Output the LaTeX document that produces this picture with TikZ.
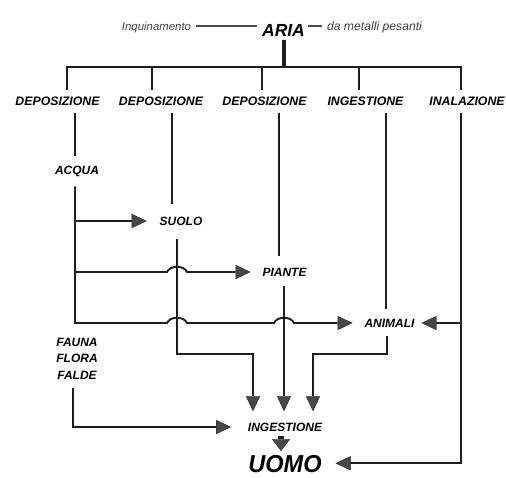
\documentclass[tikz,border=0pt]{standalone}
\usepackage{fontspec}
\setmainfont{Liberation Sans}
\usetikzlibrary{arrows.meta,calc}
\begin{document}
\begin{tikzpicture}[x=1pt,y=-1pt,
  line width=1.9pt, draw=black!88,
  every node/.style={inner sep=0pt, text depth=0pt},
  lab/.style={font=\fontsize{12}{14}\selectfont\bfseries\itshape, text height=8.6pt},
  toplab/.style={font=\fontsize{12.3}{14}\selectfont\bfseries\itshape, text height=8.8pt},
  note/.style={font=\fontsize{11.4}{13}\selectfont\itshape, text=black!75, text height=8.2pt},
  arr/.style={-{Triangle[length=15pt,width=14pt,line width=0.4pt,fill=black!72]}},
  thin/.style={line width=1.1pt, draw=black!70}]
\useasboundingbox (0,0) rectangle (506,477);

% texts
\node[note] (inq) at (156.5,26) {Inquinamento};
\node[font=\fontsize{17.5}{20}\selectfont\bfseries\itshape, text height=12.6pt] (aria) at (283.5,30) {ARIA};
\node[note, font=\fontsize{12.2}{13}\selectfont\itshape] (met) at (374.5,26) {da metalli pesanti};

\node[toplab] (d1) at (57.5,101) {DEPOSIZIONE};
\node[toplab] (d2) at (161,101) {DEPOSIZIONE};
\node[toplab] (d3) at (264.5,101) {DEPOSIZIONE};
\node[toplab] (d4) at (365.5,101) {INGESTIONE};
\node[toplab] (d5) at (467,101) {INALAZIONE};

\node[lab] (acqua) at (77,170) {ACQUA};
\node[lab] (suolo) at (181,221) {SUOLO};
\node[lab] (piante) at (284.5,272) {PIANTE};
\node[lab] (animali) at (389.5,323) {ANIMALI};
\node[lab] (fauna) at (77,342) {FAUNA};
\node[lab] (flora) at (77,358) {FLORA};
\node[lab] (falde) at (77,375) {FALDE};
\node[lab] (ingest) at (285,427) {INGESTIONE};
\node[font=\fontsize{24.5}{28}\selectfont\bfseries\itshape, text height=17.5pt, anchor=base] (uomo) at (285,472) {\scalebox{0.96}[1]{UOMO}};

% coordinates
\coordinate (hub) at (283.5,67);
\coordinate (bl) at (66,67);
\coordinate (br) at (462,67);
\coordinate (t1) at (67,67);
\coordinate (t2) at (152,67);
\coordinate (t3) at (262,67);
\coordinate (t4) at (359,67);
\coordinate (t5) at (461,67);
\coordinate (k1) at (75,113);
\coordinate (j1) at (75,323);
\coordinate (k2) at (172,113);
\coordinate (m2) at (177,354);
\coordinate (a1) at (253,354);
\coordinate (k3) at (279,113);
\coordinate (a2) at (284,354);
\coordinate (k4) at (386,113);
\coordinate (m4) at (387,354);
\coordinate (a3) at (313,354);
\coordinate (k5) at (461,113);
\coordinate (m6) at (73,427);
\coordinate (dn) at (281,440);
\coordinate (h1) at (177,272);
\coordinate (h2) at (177,323);
\coordinate (h3) at (284,323);

% top
\draw[thin, shorten <=4pt, shorten >=4pt] (inq.east) -- (aria.west |- inq.east);
\draw[thin, shorten <=2pt, shorten >=4pt] (aria.east |- met.west) -- (met.west);
\draw[line width=4pt, shorten <=3pt] (aria.south) -- (hub);
\draw[line width=2.3pt] (bl) -- (br);
\foreach \i in {1,...,5} {
  \draw[line width=2.3pt, shorten >=6pt] (t\i) -- (t\i |- d\i.north);
}

% column 1
\draw[shorten >=8.5pt] (k1) -- (k1 |- acqua.north);
\draw[arr, shorten <=11pt, shorten >=11pt] (acqua.south -| j1) -- (j1)
  -- ([xshift=-10pt]h2) .. controls +(3,-7) and +(-3,-7) .. ([xshift=10pt]h2)
  -- ([xshift=-10pt]h3) .. controls +(3,-7) and +(-3,-7) .. ([xshift=10pt]h3)
  -- (animali.west);
\draw[arr, shorten >=12pt] (suolo.west -| j1) -- (suolo.west);
\draw[arr, shorten >=11pt] (piante.west -| j1)
  -- ([xshift=-10pt]h1) .. controls +(3,-7) and +(-3,-7) .. ([xshift=10pt]h1)
  -- (piante.west);

% column 2
\draw[shorten >=11.5pt] (k2) -- (k2 |- suolo.north);
\draw[arr, shorten <=13pt, shorten >=10.5pt] (m2 |- suolo.south) -- (m2) -- (a1) -- (a1 |- ingest.north);

% column 3
\draw[shorten >=10.7pt] (k3) -- (k3 |- piante.north);
\draw[arr, shorten <=8.7pt, shorten >=10.5pt] (a2 |- piante.south) -- (a2 |- ingest.north);

% column 4
\draw[shorten >=8.7pt] (k4) -- (k4 |- animali.north);
\draw[arr, shorten <=7.7pt, shorten >=10.5pt] (m4 |- animali.south) -- (m4) -- (a3) -- (a3 |- ingest.north);

% column 5
\draw[arr, shorten >=13pt] (k5) -- (k5 |- uomo.east) -- (uomo.east);
\draw[arr, shorten >=6pt] (animali.east -| k5) -- (animali.east);

% fauna flora falde
\draw[arr, shorten <=8pt, shorten >=16pt] (falde.south -| m6) -- (m6) -- (ingest.west);

% ingestione -> uomo
\draw[line width=6pt, -{Triangle[length=12pt,width=18pt,line width=0.4pt,fill=black!72]},
  shorten <=3.5pt, shorten >=2.5pt] (ingest.south -| dn) -- (uomo.north -| dn);
\end{tikzpicture}
\end{document}
